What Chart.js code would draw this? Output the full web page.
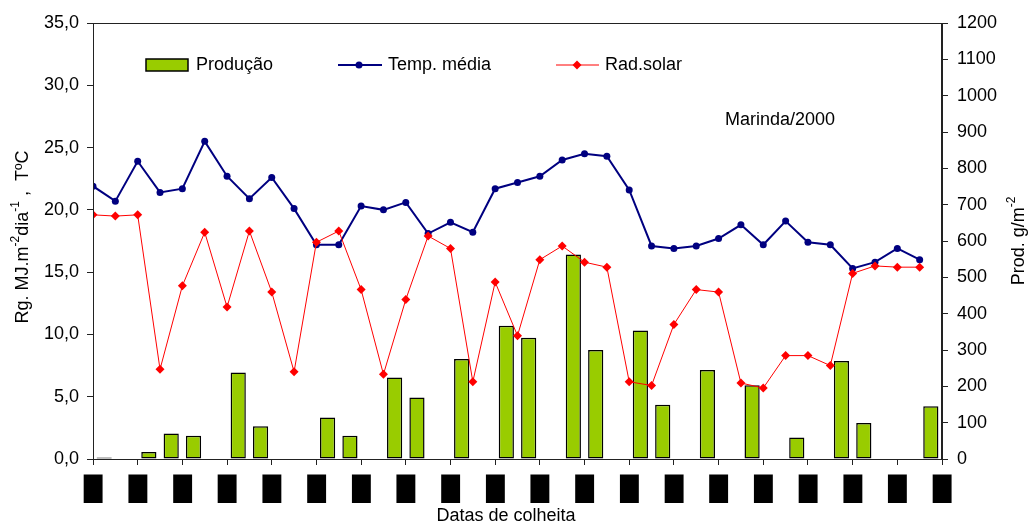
<!DOCTYPE html>
<html>
<head>
<meta charset="utf-8">
<script src="https://cdn.jsdelivr.net/npm/chart.js@4/dist/chart.umd.min.js"></script>
<style>
  html, body { margin: 0; padding: 0; background: #fff; }
  #wrap { width: 1033px; height: 526px; }
</style>
</head>
<body>
<div id="wrap"><canvas id="chart" width="1033" height="526"></canvas></div>
<script>
// Produção (g/m2), one value per harvest slot (null = no harvest)
var producao = [4, null, 19, 70, 64, null, 238, 90, null, null,
                114, 64, null, 224, 169, null, 275, null, 367, 334,
                null, 563, 300, null, 354, 149, null, 245, null, 203,
                null, 59, null, 270, 99, null, null, 145];

// Temperatura média (ºC)
var tempMedia = [21.9, 20.7, 23.9, 21.4, 21.7, 25.5, 22.7, 20.9, 22.6, 20.1,
                 17.2, 17.2, 20.3, 20.0, 20.6, 18.1, 19.0, 18.2, 21.7, 22.2,
                 22.7, 24.0, 24.5, 24.3, 21.6, 17.1, 16.9, 17.1, 17.7, 18.8,
                 17.2, 19.1, 17.4, 17.2, 15.3, 15.8, 16.9, 16.0];

// Radiação solar (MJ/m2/dia)
var radSolar = [19.6, 19.5, 19.6, 7.2, 13.9, 18.2, 12.2, 18.3, 13.4, 7.0,
                17.4, 18.3, 13.6, 6.8, 12.8, 17.9, 16.9, 6.2, 14.2, 9.9,
                16.0, 17.1, 15.8, 15.4, 6.2, 5.9, 10.8, 13.6, 13.4, 6.1,
                5.7, 8.3, 8.3, 7.5, 14.9, 15.5, 15.4, 15.4];

// slot labels for the bars, and the (unreadable) date labels under each tick
var slotLabels = producao.map(function(v, i) { return String(i + 1); });
var tickLabels = ['█', '█', '█', '█', '█', '█', '█', '█', '█', '█',
                  '█', '█', '█', '█', '█', '█', '█', '█', '█', '█'];

var FONT = "'Liberation Sans', Arial, sans-serif";

function toPoints(arr) {
    return arr.map(function(v, i) { return {x: i, y: v}; });
}

// draws text with superscript parts, rotated -90 around (cx, cy)
function drawVertical(ctx, parts, cx, cy) {
    var main = '18px ' + FONT, sup = '12px ' + FONT;
    var total = 0;
    parts.forEach(function(p) {
        ctx.font = p.sup ? sup : main;
        total += ctx.measureText(p.t).width;
    });
    ctx.save();
    ctx.translate(cx, cy);
    ctx.rotate(-Math.PI / 2);
    ctx.fillStyle = '#000';
    ctx.textBaseline = 'middle';
    ctx.textAlign = 'left';
    var x = -total / 2;
    parts.forEach(function(p) {
        ctx.font = p.sup ? sup : main;
        ctx.fillText(p.t, x, p.sup ? -7 : 0);
        x += ctx.measureText(p.t).width;
    });
    ctx.restore();
}

var overlay = {
    id: 'overlay',
    afterDraw: function(chart) {
        var ctx = chart.ctx, a = chart.chartArea;
        ctx.save();

        // plot frame
        ctx.strokeStyle = '#222';
        ctx.lineWidth = 1;
        ctx.strokeRect(a.left + 0.5, a.top + 0.5, a.right - a.left - 1, a.bottom - a.top);

        // legend
        var ly = a.top + 42;
        ctx.font = '18px ' + FONT;
        ctx.textBaseline = 'middle';
        ctx.fillStyle = '#99cc00';
        ctx.fillRect(a.left + 53, ly - 6, 42, 12);
        ctx.strokeStyle = '#000';
        ctx.lineWidth = 1.5;
        ctx.strokeRect(a.left + 53, ly - 6, 42, 12);
        ctx.fillStyle = '#000';
        ctx.fillText('Produção', a.left + 103, ly);

        ctx.strokeStyle = '#000080';
        ctx.lineWidth = 2;
        ctx.beginPath();
        ctx.moveTo(a.left + 245, ly);
        ctx.lineTo(a.left + 289, ly);
        ctx.stroke();
        ctx.fillStyle = '#000080';
        ctx.beginPath();
        ctx.arc(a.left + 266, ly, 3.5, 0, Math.PI * 2);
        ctx.fill();
        ctx.fillStyle = '#000';
        ctx.fillText('Temp. média', a.left + 295, ly);

        ctx.strokeStyle = '#ff0000';
        ctx.lineWidth = 1;
        ctx.beginPath();
        ctx.moveTo(a.left + 463, ly);
        ctx.lineTo(a.left + 506, ly);
        ctx.stroke();
        ctx.fillStyle = '#ff0000';
        ctx.beginPath();
        ctx.moveTo(a.left + 484, ly - 4.5);
        ctx.lineTo(a.left + 488.5, ly);
        ctx.lineTo(a.left + 484, ly + 4.5);
        ctx.lineTo(a.left + 479.5, ly);
        ctx.closePath();
        ctx.fill();
        ctx.fillStyle = '#000';
        ctx.fillText('Rad.solar', a.left + 512, ly);

        // site label
        ctx.fillText('Marinda/2000', a.left + 632, a.top + 97);

        // x axis title
        ctx.textAlign = 'center';
        ctx.fillText('Datas de colheita', 506, chart.height - 10);
        ctx.restore();

        // y axis titles
        var mid = (a.top + a.bottom) / 2;
        drawVertical(ctx, [
            {t: 'Rg. MJ.m'}, {t: '-2', sup: true}, {t: 'dia'}, {t: '-1', sup: true}, {t: ' ,  TºC'}
        ], 23, mid - 4);
        drawVertical(ctx, [
            {t: 'Prod. g/m'}, {t: '-2', sup: true}
        ], 1019, mid);
    }
};

new Chart(document.getElementById('chart'), {
    data: {
        labels: slotLabels,
        datasets: [{
            type: 'line',
            label: 'Rad.solar',
            data: toPoints(radSolar),
            xAxisID: 'x',
            yAxisID: 'y',
            borderColor: '#ff0000',
            backgroundColor: '#ff0000',
            borderWidth: 1,
            pointStyle: 'rectRot',
            pointRadius: 4.5,
            pointBorderWidth: 0,
            tension: 0,
            order: 0
        }, {
            type: 'line',
            label: 'Temp. média',
            data: toPoints(tempMedia),
            xAxisID: 'x',
            yAxisID: 'y',
            borderColor: '#000080',
            backgroundColor: '#000080',
            borderWidth: 2,
            pointStyle: 'circle',
            pointRadius: 3.5,
            pointBorderWidth: 0,
            tension: 0,
            order: 1
        }, {
            type: 'bar',
            label: 'Produção',
            data: producao,
            xAxisID: 'xb',
            yAxisID: 'y2',
            backgroundColor: '#99cc00',
            borderColor: '#000',
            borderWidth: 1.5,
            borderSkipped: false,
            grouped: false,
            barPercentage: 0.68,
            categoryPercentage: 1,
            order: 2
        }]
    },
    options: {
        responsive: false,
        animation: false,
        events: [],
        layout: { padding: { top: 23, left: 0, right: 0, bottom: 0 } },
        plugins: {
            legend: { display: false },
            tooltip: { enabled: false }
        },
        scales: {
            x: {
                type: 'linear',
                position: 'bottom',
                min: 0,
                max: 38,
                afterFit: function(s) { s.height = 67; },
                border: { display: true, color: '#222', width: 1 },
                grid: { drawOnChartArea: false, drawTicks: true, tickLength: 6, color: '#222' },
                ticks: {
                    stepSize: 2,
                    autoSkip: false,
                    maxRotation: 0,
                    padding: 11,
                    color: '#000',
                    font: { family: "'DejaVu Sans'", size: 24 },
                    callback: function(v) { return tickLabels[v / 2]; }
                }
            },
            xb: {
                type: 'category',
                display: false,
                offset: true
            },
            y: {
                position: 'left',
                min: 0,
                max: 35,
                afterFit: function(s) { s.width = 93; },
                border: { display: true, color: '#222', width: 1 },
                grid: { drawOnChartArea: false, drawTicks: true, tickLength: 6, color: '#222' },
                ticks: {
                    stepSize: 5,
                    padding: 8,
                    color: '#000',
                    font: { family: FONT, size: 18 },
                    callback: function(v) { return v.toFixed(1).replace('.', ','); }
                }
            },
            y2: {
                position: 'right',
                min: 0,
                max: 1200,
                afterFit: function(s) { s.width = 91; },
                border: { display: true, color: '#222', width: 1 },
                grid: { drawOnChartArea: false, drawTicks: true, tickLength: 6, color: '#222' },
                ticks: {
                    stepSize: 100,
                    padding: 9,
                    color: '#000',
                    font: { family: FONT, size: 18 },
                    callback: function(v) { return String(v); }
                }
            }
        }
    },
    plugins: [overlay]
});
</script>
</body>
</html>
